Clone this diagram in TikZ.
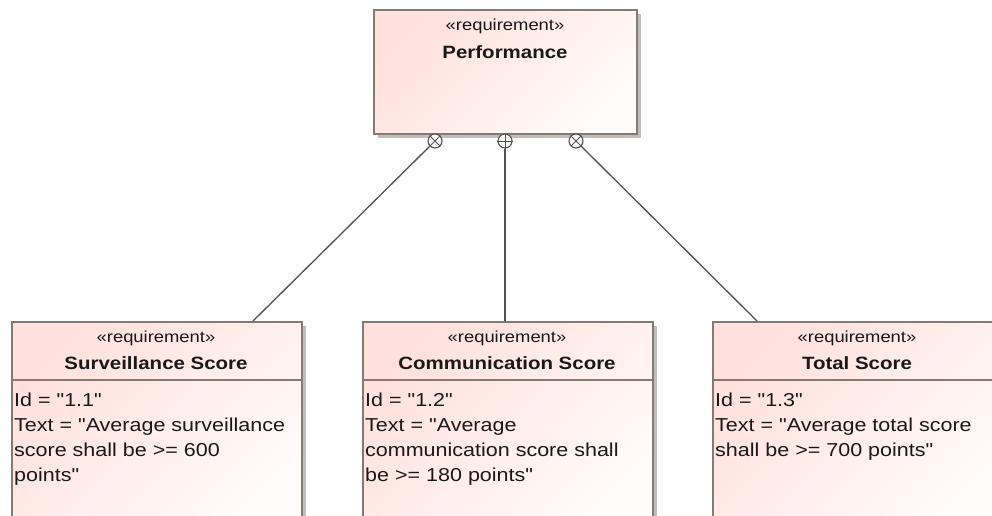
\documentclass[tikz,border=0pt]{standalone}
\usepackage{fontspec}
\setmainfont{Liberation Sans}[FakeStretch=1.15, Ligatures=TeXOff]
\usetikzlibrary{shadows}
\definecolor{boxborder}{RGB}{132,122,114}
\definecolor{boxshadow}{RGB}{192,190,188}
\definecolor{reqpink}{RGB}{255,224,220}
\definecolor{reqlight}{RGB}{255,251,249}
\definecolor{linkgray}{RGB}{80,80,80}
\definecolor{inkcol}{RGB}{25,25,25}
\tikzset{
  reqbox/.style={rectangle, anchor=north west, inner sep=0pt, draw=boxborder, line width=1.5pt,
    top color=reqpink, bottom color=reqlight, shading angle=45,
    general shadow={shadow xshift=4pt, shadow yshift=-4pt, fill=boxshadow}},
  stereo/.style={inner sep=0pt, text=inkcol, font=\fontsize{16}{18}\selectfont},
  reqname/.style={inner sep=0pt, text=inkcol, font=\bfseries\fontsize{17.8}{20}\selectfont},
  reqbody/.style={inner sep=0pt, anchor=north west, align=left, text=inkcol,
    font=\fontsize{18.7}{25}\selectfont},
  containdot/.style={circle, draw=linkgray, fill=white, line width=1.1pt, minimum size=14pt, inner sep=0pt},
  link/.style={draw=linkgray, line width=1.3pt},
  sepline/.style={draw=boxborder, line width=1.3pt}
}
\begin{document}
\begin{tikzpicture}[x=1pt, y=-1pt]
\useasboundingbox (0,0) rectangle (992,515);
\fill[white] (0,0) rectangle (992,515);
\clip (0,0) rectangle (992,515);

% parent requirement
\node[reqbox, minimum width=263pt, minimum height=124pt] (perf) at (373,9) {};
\node[stereo] (perfst) at (505,26) {«requirement»};
\node[reqname] (perfnm) at (505,52) {Performance};

% child requirements
\node[reqbox, minimum width=290pt, minimum height=205pt] (surv) at (11,321) {};
\node[reqbox, minimum width=290pt, minimum height=205pt] (comm) at (362,321) {};
\node[reqbox, minimum width=290pt, minimum height=205pt] (total) at (712,321) {};

\foreach \b in {surv, comm, total}
  \draw[sepline] ([yshift=-59pt]\b.north west) -- ([yshift=-59pt]\b.north east);

\node[stereo] (survst) at (156,338) {«requirement»};
\node[reqname] (survnm) at (156,363) {Surveillance Score};
\node[reqbody] (survtx) at (14,391) {\rule{0pt}{15pt}Id = "1.1"\\Text = "Average surveillance\\score shall be >= 600\\points"};

\node[stereo] (commst) at (507,338) {«requirement»};
\node[reqname] (commnm) at (507,363) {Communication Score};
\node[reqbody] (commtx) at (365,391) {\rule{0pt}{15pt}Id = "1.2"\\Text = "Average\\communication score shall\\be >= 180 points"};

\node[stereo] (totalst) at (857,338) {«requirement»};
\node[reqname] (totalnm) at (857,363) {Total Score};
\node[reqbody] (totaltx) at (715,391) {\rule{0pt}{15pt}Id = "1.3"\\Text = "Average total score\\shall be >= 700 points"};

% containment connectors
\coordinate (survend) at ([xshift=242pt]surv.north west);
\coordinate (commend) at ([xshift=143pt]comm.north west);
\coordinate (totalend) at ([xshift=45pt]total.north west);

\node[containdot] (c1) at (435,141) {};
\node[containdot] (c2) at (505,141) {};
\node[containdot] (c3) at (576,141) {};

\draw[link] (c1.225) -- (survend);
\draw[link] (c2.south) -- (commend);
\draw[link] (c3.315) -- (totalend);

\draw[linkgray, line width=1pt] (c1.45) -- (c1.225) (c1.135) -- (c1.315);
\draw[linkgray, line width=1pt] (c2.north) -- (c2.south) (c2.east) -- (c2.west);
\draw[linkgray, line width=1pt] (c3.45) -- (c3.225) (c3.135) -- (c3.315);
\end{tikzpicture}
\end{document}
